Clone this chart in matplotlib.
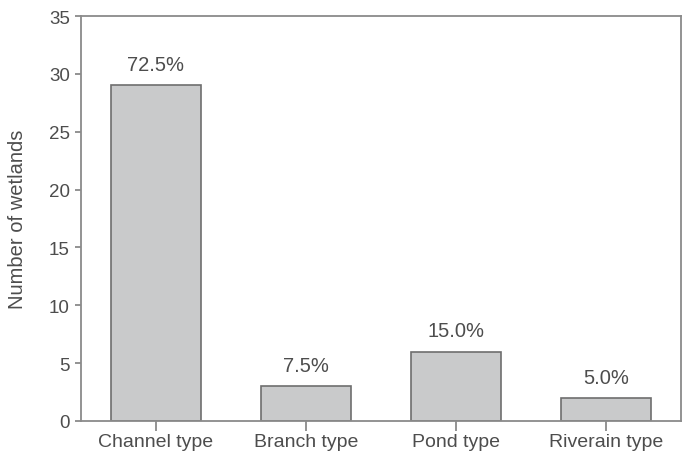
import matplotlib
matplotlib.use("Agg")
import matplotlib.pyplot as plt

categories = ["Channel type", "Branch type", "Pond type", "Riverain type"]
counts = [29, 3, 6, 2]
percent_labels = ["72.5%", "7.5%", "15.0%", "5.0%"]
yticks = [0, 5, 10, 15, 20, 25, 30, 35]

plt.rcParams['font.family'] = ['Liberation Sans', 'DejaVu Sans']
txt = '#4d4d4d'
spine = '#8a8a8a'

fig = plt.figure(figsize=(6.87, 4.60), dpi=100)
ax = fig.add_axes([81/687, 1 - 422/460, (681-81)/687, (422-17)/460])

x = range(len(categories))
ax.bar(x, counts, width=0.6, color='#c9cacb', edgecolor='#6e6e6e', linewidth=1.2, zorder=2)
for xi, c, lab in zip(x, counts, percent_labels):
    ax.annotate(lab, (xi, c), xytext=(0, 8), textcoords='offset points',
                ha='center', va='bottom', fontsize=14.5, color=txt)

ax.set_xlim(-0.5, 3.5)
ax.set_ylim(0, 35)
ax.set_yticks(yticks)
ax.set_xticks(list(x))
ax.set_xticklabels(categories, fontsize=14)
ax.set_ylabel("Number of wetlands", fontsize=14.5, color=txt, labelpad=16)
for s in ax.spines.values():
    s.set_color(spine)
    s.set_linewidth(1.3)
ax.tick_params(axis='both', colors=spine, labelcolor=txt, labelsize=13.5, direction='out', width=1.3)
ax.tick_params(axis='y', length=4, pad=4)
ax.tick_params(axis='x', length=7, pad=2, labelsize=14)

fig.savefig("out.png", dpi=100)
